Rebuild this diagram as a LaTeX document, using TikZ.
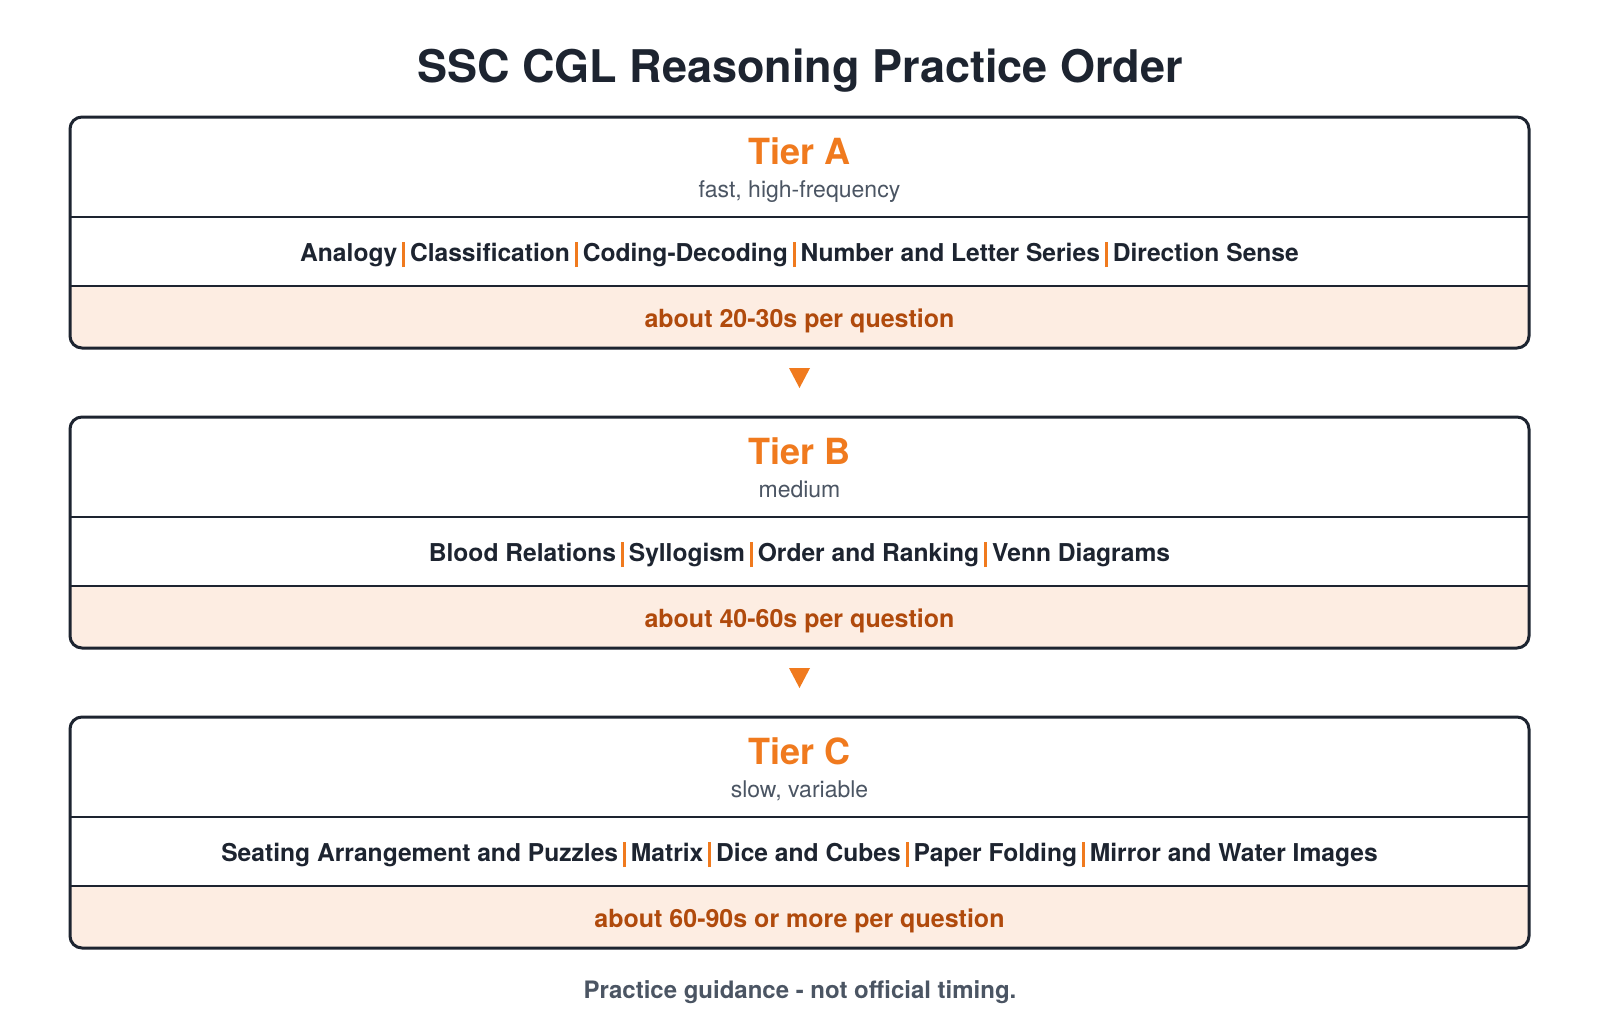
\documentclass[tikz,border=0pt]{standalone}
\usepackage{fontspec}
\setmainfont{TeX Gyre Heros}
\usetikzlibrary{calc}
\definecolor{ink}{HTML}{1D2430}
\definecolor{acc}{HTML}{F07A1E}
\definecolor{footink}{HTML}{B04A0C}
\definecolor{footfill}{HTML}{FDEDE2}
\definecolor{muted}{HTML}{4B5563}
\newcommand\sepbar{\hspace{5pt}\textcolor{acc}{\rule[-6pt]{2.8pt}{25pt}}\hspace{5pt}}
\tikzset{
 frame/.style={draw=ink, line width=3pt, rounded corners=12pt},
 divider/.style={draw=ink, line width=2pt},
 maintitle/.style={anchor=base, text=ink, font=\fontsize{45}{50}\selectfont\bfseries, inner sep=0pt},
 tiertitle/.style={anchor=base, text=acc, font=\fontsize{36}{40}\selectfont\bfseries, inner sep=0pt},
 subtitle/.style={anchor=base, text=muted, font=\fontsize{23}{27}\selectfont, inner sep=0pt},
 itemrow/.style={anchor=base, text=ink, font=\fontsize{24.6}{28}\selectfont\bfseries, inner sep=0pt},
 footrow/.style={anchor=base, text=footink, font=\fontsize{25}{29}\selectfont\bfseries, inner sep=0pt},
 note/.style={anchor=base, text=muted, font=\fontsize{24}{28}\selectfont\bfseries, inner sep=0pt},
 marker/.style={fill=acc},
}
\newcommand\tierbox[6]{%
 \coordinate (#1nw) at (70,#2);
 \coordinate (#1se) at (1529,#2+231);
 \fill[white, rounded corners=12pt] (#1nw) rectangle (#1se);
 \begin{scope}
  \clip[rounded corners=12pt] (#1nw) rectangle (#1se);
  \fill[footfill] (70,#2+169) rectangle (1529,#2+231);
 \end{scope}
 \draw[divider] (70,#2+100) -- (1529,#2+100);
 \draw[divider] (70,#2+169) -- (1529,#2+169);
 \draw[frame] (#1nw) rectangle (#1se);
 \node[tiertitle] (#1title) at (799.5,#2+47) {#3};
 \node[subtitle] (#1sub) at (799.5,#2+80) {#4};
 \node[itemrow] (#1items) at (799.5,#2+144) {#5};
 \node[footrow] (#1foot) at (799.5,#2+210) {#6};
}
\begin{document}
\begin{tikzpicture}[x=1pt,y=-1pt]
\useasboundingbox[fill=white] (0,0) rectangle (1600,1029);
\node[maintitle] (title) at (800,82) {SSC CGL Reasoning Practice Order};
\tierbox{A}{117}{Tier A}{fast, high-frequency}{Analogy\sepbar Classification\sepbar Coding-Decoding\sepbar Number and Letter Series\sepbar Direction Sense}{about 20-30s per question}
\tierbox{B}{417}{Tier B}{medium}{Blood Relations\sepbar Syllogism\sepbar Order and Ranking\sepbar Venn Diagrams}{about 40-60s per question}
\tierbox{C}{717}{Tier C}{slow, variable}{Seating Arrangement and Puzzles\sepbar Matrix\sepbar Dice and Cubes\sepbar Paper Folding\sepbar Mirror and Water Images}{about 60-90s or more per question}
\coordinate (arAB) at (799.5,378);
\coordinate (arBC) at (799.5,678);
\fill[marker] (arAB) ++(-10.5,-10) -- ++(21,0) -- ++(-10.5,20) -- cycle;
\fill[marker] (arBC) ++(-10.5,-10) -- ++(21,0) -- ++(-10.5,20) -- cycle;
\node[note] (footnote) at (800,998.5) {Practice guidance - not official timing.};
\end{tikzpicture}
\end{document}
